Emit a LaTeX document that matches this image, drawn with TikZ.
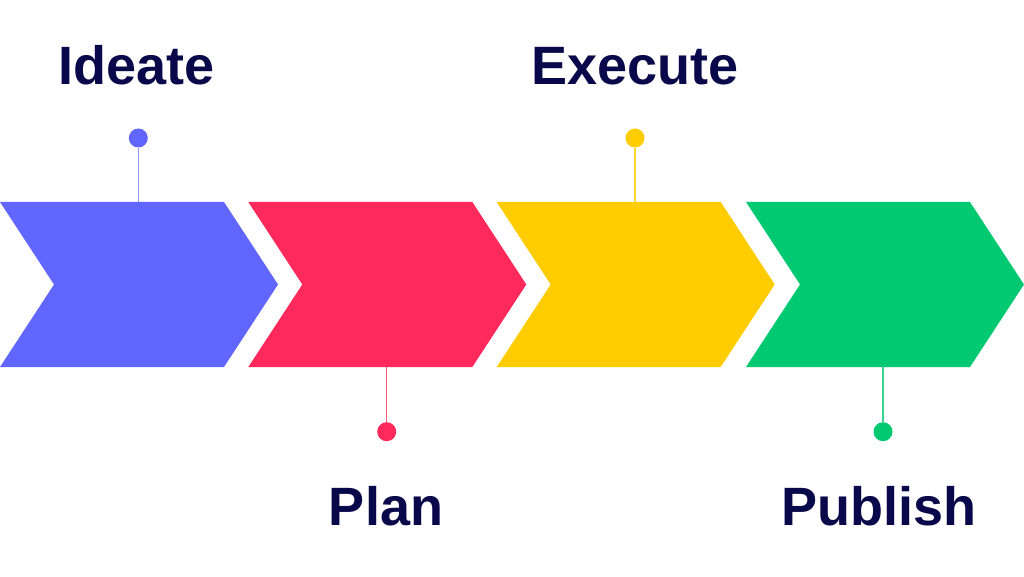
\documentclass[tikz,border=0pt]{standalone}
\usepackage{fontspec}
\setmainfont{Liberation Sans}
\usetikzlibrary{positioning}
\definecolor{StepBlue}{HTML}{6066FF}
\definecolor{StepRed}{HTML}{FF295B}
\definecolor{StepYellow}{HTML}{FFCC00}
\definecolor{StepGreen}{HTML}{00C972}
\definecolor{Ink}{HTML}{08084A}
\newcommand{\drawchevron}[2]{%
  \path[fill=#1]
    (#2,374) -- ({#2+224},374) -- ({#2+278},291.5)
    -- ({#2+224},209) -- (#2,209) -- ({#2+54},291.5) -- cycle;
}
\tikzset{
  dot/.style={circle,inner sep=0pt,minimum size=19pt},
  stem/.style={line width=1.2pt},
  steplabel/.style={text=Ink,anchor=base,inner sep=0pt,
    font=\fontsize{54}{62}\selectfont\bfseries}
}

\begin{document}
\begin{tikzpicture}[x=1pt,y=1pt]
  \useasboundingbox (0,0) rectangle (1024,576);
  \drawchevron{StepBlue}{0}
  \drawchevron{StepRed}{248.3}
  \drawchevron{StepYellow}{496.7}
  \drawchevron{StepGreen}{746}
  % stems above
  \coordinate (ideatetop) at (138.3,374);
  \coordinate (executetop) at (635,374);
  % stems below
  \coordinate (planbottom) at (386.7,209);
  \coordinate (publishbottom) at (883,209);
  \node[dot,fill=StepBlue] (ideatedot) at (138.3,438) {};
  \node[dot,fill=StepRed] (plandot) at (386.7,144.3) {};
  \node[dot,fill=StepYellow] (executedot) at (635,438) {};
  \node[dot,fill=StepGreen] (publishdot) at (883,144.3) {};
  \draw[stem,StepBlue!70] (ideatedot) -- (ideatetop);
  \draw[stem,StepRed!80] (plandot) -- (planbottom);
  \draw[stem,StepYellow!80] (executedot) -- (executetop);
  \draw[stem,StepGreen!80] (publishdot) -- (publishbottom);
  \node[steplabel] (ideate) at (136.5,491) {Ideate};
  \node[steplabel] (plan) at (386,50.3) {Plan};
  \node[steplabel] (execute) at (635,491) {Execute};
  \node[steplabel] (publish) at (879,50.3) {Publish};
\end{tikzpicture}
\end{document}
